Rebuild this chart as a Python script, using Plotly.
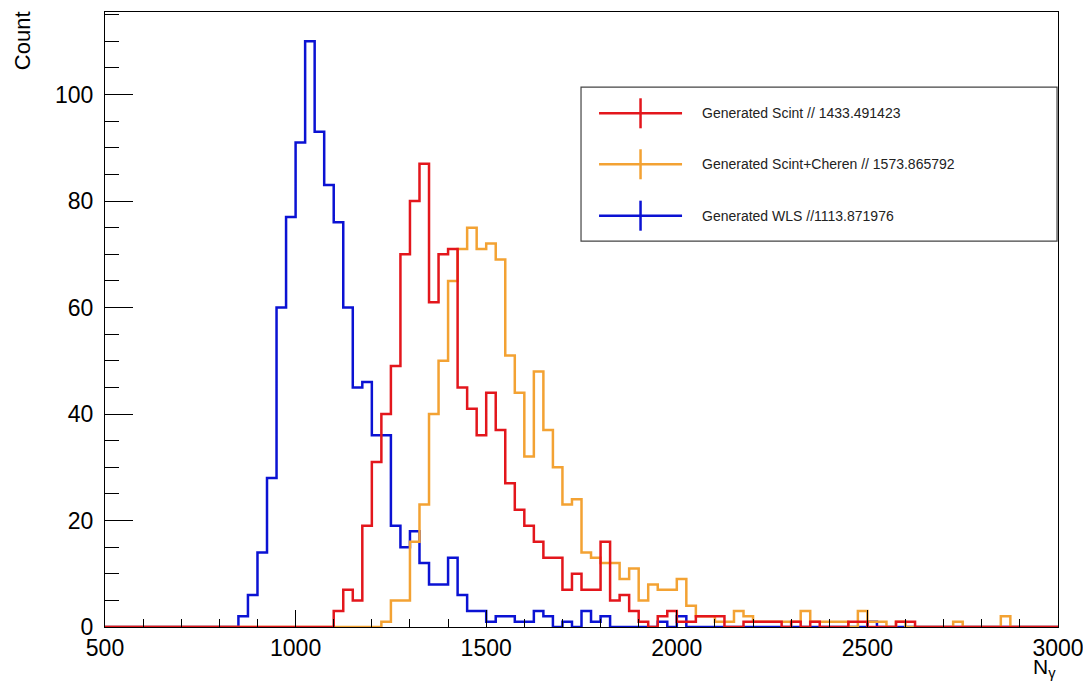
import plotly.graph_objects as go

# ---------------- data ----------------
x_min = 500
x_max = 3000
bin_width = 25

# counts per 25-wide bin, 100 bins from 500 to 3000
red_counts = [0]*24 + [3, 7, 5, 19, 31, 40, 49, 70, 80, 87,
                       61, 70, 71, 45, 41, 36, 44, 37, 27, 22,
                       19, 16, 13, 13, 7, 10, 7, 7, 16, 5,
                       6, 3, 1, 0, 2, 3, 1, 1, 2, 2,
                       2, 0, 0, 1, 1, 1, 1, 0, 1, 0,
                       1, 0, 0, 0, 1, 1, 0, 0, 0, 1,
                       1] + [0]*15
orange_counts = [0]*29 + [1, 5, 5, 16, 23, 40, 50, 65, 71, 75,
                          71, 72, 69, 51, 44, 32, 48, 37, 30, 23,
                          24, 14, 13, 12, 12, 9, 11, 5, 8, 7,
                          7, 9, 4, 2, 2, 1, 1, 3, 2, 1,
                          1, 1, 1, 1, 3, 1, 1, 1, 1, 0,
                          3, 1, 1, 0, 1, 0, 0, 0, 0, 0,
                          1, 0, 0, 0, 0, 2] + [0]*5
blue_counts = [0]*14 + [2, 6, 14, 28, 60, 77, 91, 110, 93, 83,
                        76, 60, 45, 46, 36, 36, 19, 15, 18, 12,
                        8, 8, 13, 6, 3, 3, 1, 2, 2, 1,
                        1, 3, 2, 0, 1, 0, 3, 1, 2, 0,
                        0, 0, 0, 0, 1, 0, 2, 0, 0, 0,
                        0, 0, 0, 0, 0, 0, 0, 0, 0, 0,
                        0, 0, 0, 0, 0, 0, 1] + [0]*19

series_names = ["Generated Scint // 1433.491423",
                "Generated Scint+Cheren // 1573.865792",
                "Generated WLS //1113.871976"]
series_colors = ["#e3161c", "#f3a233", "#0b12d3"]

y_tickvals = [0, 20, 40, 60, 80, 100]
x_tickvals = [500, 1000, 1500, 2000, 2500, 3000]

# ---------------- figure ----------------
n_bins = len(red_counts)
edges = [x_min + bin_width * k for k in range(n_bins + 1)]

fig = go.Figure()

def step_trace(counts, color, name):
    return go.Scatter(
        x=edges, y=list(counts) + [counts[-1]],
        mode="lines", line=dict(color=color, width=2.5, shape="hv"),
        name=name, showlegend=False, hoverinfo="skip",
    )

# drawing order: blue, orange, red (red on top)
fig.add_trace(step_trace(blue_counts, series_colors[2], series_names[2]))
fig.add_trace(step_trace(orange_counts, series_colors[1], series_names[1]))
fig.add_trace(step_trace(red_counts, series_colors[0], series_names[0]))

FONT = "Liberation Sans, Arial, Helvetica, sans-serif"

# ---------------- custom ROOT-style legend ----------------
lx0, lx1 = 0.4995, 0.999
ly0, ly1 = 0.6276, 0.878
fig.add_shape(type="rect", xref="paper", yref="paper",
              x0=lx0, x1=lx1, y0=ly0, y1=ly1,
              line=dict(color="#444444", width=1.2), fillcolor="white", layer="above")
row_y = [0.8353, 0.7524, 0.6688]
seg_x0, seg_x1 = 0.5184, 0.6055
seg_c = (seg_x0 + seg_x1) / 2
bar_h = 0.0244
for name, color, ry in zip(series_names, series_colors, row_y):
    fig.add_shape(type="line", xref="paper", yref="paper",
                  x0=seg_x0, x1=seg_x1, y0=ry, y1=ry,
                  line=dict(color=color, width=2.5), layer="above")
    fig.add_shape(type="line", xref="paper", yref="paper",
                  x0=seg_c, x1=seg_c, y0=ry - bar_h, y1=ry + bar_h,
                  line=dict(color=color, width=2.5), layer="above")
    fig.add_annotation(xref="paper", yref="paper", x=0.6243, y=ry,
                       xanchor="left", yanchor="middle", showarrow=False,
                       text=name, font=dict(size=14, color="#222222", family=FONT))

# axis titles
fig.add_annotation(xref="paper", yref="paper", x=-0.087, y=1.004,
                   xanchor="center", yanchor="top", textangle=-90, showarrow=False,
                   text="Count", font=dict(size=22, color="black", family=FONT))
fig.add_annotation(xref="paper", yref="paper", x=1.0, y=-0.043,
                   xanchor="right", yanchor="top", showarrow=False,
                   text="N<sub>γ</sub>", font=dict(size=21, color="black", family=FONT))

axis_font = dict(size=23, color="black", family=FONT)

# page body has an 8px margin: size the figure so the frame lands where it should
fig.update_layout(
    width=1083, height=674,
    margin=dict(l=97, r=33, t=4, b=55),
    paper_bgcolor="white", plot_bgcolor="white",
    showlegend=False,
    xaxis=dict(
        range=[x_min, x_max], tickvals=x_tickvals,
        ticktext=[str(v) for v in x_tickvals],
        ticks="inside", ticklen=17, tickwidth=1, tickcolor="black",
        minor=dict(dtick=100, tick0=500, ticks="inside", ticklen=8, tickcolor="black", tickwidth=1),
        showgrid=False, zeroline=False,
        showline=True, linecolor="black", linewidth=1, mirror=True,
        tickfont=axis_font, ticklabelstandoff=0,
    ),
    yaxis=dict(
        range=[0, 115.5], tickvals=y_tickvals,
        ticktext=[str(v) for v in y_tickvals],
        ticks="inside", ticklen=28, tickwidth=1, tickcolor="black",
        minor=dict(dtick=5, tick0=0, ticks="inside", ticklen=14, tickcolor="black", tickwidth=1),
        showgrid=False, zeroline=False,
        showline=True, linecolor="black", linewidth=1, mirror=True,
        tickfont=axis_font, ticklabelstandoff=6,
    ),
)

fig.write_html("out.html")
